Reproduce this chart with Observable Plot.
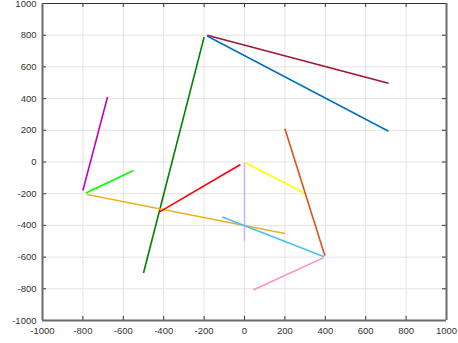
<!DOCTYPE html>
<html>
<head>
<meta charset="utf-8">
<script src="https://cdn.jsdelivr.net/npm/d3@7"></script>
<script src="https://cdn.jsdelivr.net/npm/@observablehq/plot@0.6"></script>
<style>
  html, body { margin: 0; padding: 0; background: #fff; }
  #chart svg { overflow: visible; display: block; }
</style>
</head>
<body>
<div id="chart"></div>
<script>
// Segment data (drawing order)
const names = ["seg 1", "seg 2", "seg 3", "seg 4", "seg 5", "seg 6", "seg 7", "seg 8", "seg 9", "seg 10", "seg 11", "seg 12"];
const x1 = [-500, -185, -185, -800, -785, -780, -420, 5, 0, 200, -110, 45];
const y1 = [-700, 800, 795, -180, -195, -205, -315, -5, -5, 210, -347, -806];
const x2 = [-200, 713, 713, -678, -550, 200, -20, 305, 0, 398, 394, 390];
const y2 = [788, 497, 194, 411, -54, -451, -16, -202, -500, -592, -598, -605];
const colors = ["#007f00", "#a2142f", "#0072bd", "#bf00bf", "#00ff00", "#edb120", "#ff0000", "#ffff00", "#d0b0ff", "#d95319", "#4dbeee", "#ff90c0"];
const ticks = [-1000, -800, -600, -400, -200, 0, 200, 400, 600, 800, 1000];
const domainMin = -1000, domainMax = 1000;

const segments = names.map((n, i) => ({name: n, x1: x1[i], y1: y1[i], x2: x2[i], y2: y2[i]}));

const W = 458, H = 343;
const mL = 42, mR = 12, mT = 3, mB = 23;
const innerH = H - mT - mB;
const innerW = W - mL - mR;
const tickLen = 4;
const tickColor = "#333";
const boxColor = "#6a6a6a";

const chart = Plot.plot({
  width: W,
  height: H,
  marginLeft: mL,
  marginRight: mR,
  marginTop: mT,
  marginBottom: mB,
  style: {fontFamily: "'Liberation Sans', Arial, sans-serif", fontSize: "9.5px", color: "#333", background: "#fff"},
  x: {domain: [domainMin, domainMax], ticks: ticks, label: null},
  y: {domain: [domainMin, domainMax], ticks: ticks, label: null},
  color: {type: "ordinal", domain: names, range: colors},
  marks: [
    Plot.gridX(ticks, {stroke: "#e3e3e3", strokeOpacity: 1, strokeWidth: 1}),
    Plot.gridY(ticks, {stroke: "#e3e3e3", strokeOpacity: 1, strokeWidth: 1}),
    Plot.link(segments, {x1: "x1", y1: "y1", x2: "x2", y2: "y2", stroke: "name", strokeWidth: 1.6}),
    // inward tick marks on all four sides
    Plot.tickX(ticks, {x: d => d, stroke: tickColor, insetTop: innerH - tickLen}),
    Plot.tickX(ticks, {x: d => d, stroke: tickColor, insetBottom: innerH - tickLen}),
    Plot.tickY(ticks, {y: d => d, stroke: tickColor, insetRight: innerW - tickLen}),
    Plot.tickY(ticks, {y: d => d, stroke: tickColor, insetLeft: innerW - tickLen}),
    // box: thin dark top, thicker gray left/bottom/right
    Plot.ruleY([domainMax], {stroke: tickColor, strokeWidth: 1}),
    Plot.ruleX([domainMin], {stroke: boxColor, strokeWidth: 2}),
    Plot.ruleX([domainMax], {stroke: boxColor, strokeWidth: 2}),
    Plot.ruleY([domainMin], {stroke: boxColor, strokeWidth: 2}),
    Plot.axisX(ticks, {anchor: "bottom", tickSize: 0, tickPadding: 7, tickFormat: d => String(d), fill: "#333"}),
    Plot.axisY(ticks, {anchor: "left", tickSize: 0, tickPadding: 6, tickFormat: d => String(d), fill: "#333"})
  ]
});

document.getElementById("chart").appendChild(chart);
</script>
</body>
</html>
